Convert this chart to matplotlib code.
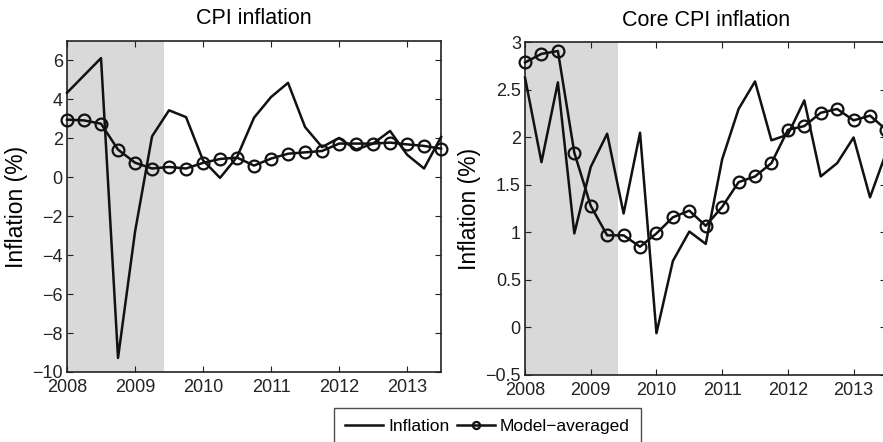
import matplotlib.pyplot as plt
import numpy as np

plt.rcParams['font.family'] = ['Liberation Sans', 'DejaVu Sans']

# quarterly dates, 2008Q1 .. 2013Q3
dates = 2008 + 0.25 * np.arange(23)
recession_end = 2009.42

cpi_actual = [4.34, 5.23, 6.12, -9.28, -2.8, 2.1, 3.44, 3.09, 0.87, -0.03, 1.04, 3.06,
              4.12, 4.85, 2.58, 1.55, 2.02, 1.42, 1.73, 2.38, 1.16, 0.45, 2.07]
cpi_model = [2.96, 2.92, 2.75, 1.42, 0.75, 0.45, 0.53, 0.45, 0.74, 0.94, 1.01, 0.60,
             0.96, 1.21, 1.28, 1.35, 1.73, 1.73, 1.73, 1.78, 1.69, 1.61, 1.47]

core_actual = [2.63, 1.74, 2.58, 0.99, 1.69, 2.04, 1.20, 2.05, -0.06, 0.70, 1.01, 0.88,
               1.77, 2.30, 2.59, 1.97, 2.03, 2.39, 1.59, 1.73, 2.00, 1.37, 1.85]
core_model = [2.79, 2.88, 2.91, 1.84, 1.28, 0.97, 0.97, 0.85, 0.99, 1.16, 1.23, 1.07,
              1.27, 1.53, 1.59, 1.73, 2.08, 2.12, 2.26, 2.30, 2.18, 2.23, 2.08]

years = [2008, 2009, 2010, 2011, 2012, 2013]

fig = plt.figure(figsize=(8.83, 4.42), dpi=100)
ax1 = fig.add_axes([0.0759, 0.1584, 0.4236, 0.7489])
ax2 = fig.add_axes([0.5946, 0.1516, 0.4093, 0.7523])

panels = [
    (ax1, cpi_actual, cpi_model, 'CPI inflation', (-10, 7), np.arange(-10, 7, 2)),
    (ax2, core_actual, core_model, 'Core CPI inflation', (-0.5, 3), np.arange(-0.5, 3.01, 0.5)),
]

for ax, actual, model, title, ylim, yticks in panels:
    ax.axvspan(2008, recession_end, color='#d9d9d9', lw=0, zorder=0)
    ax.plot(dates, actual, color='#111111', lw=1.8, label='Inflation', clip_on=False, zorder=3)
    ax.plot(dates, model, color='#111111', lw=1.8, marker='o', ms=8.5, mfc='none',
            mew=1.6, label='Model\u2212averaged', clip_on=False, zorder=3)
    ax.set_xlim(2008, 2013.5)
    ax.set_ylim(*ylim)
    ax.set_xticks(years)
    ax.set_xticklabels([str(y) for y in years])
    ax.set_yticks(yticks)
    ax.set_yticklabels([('%g' % v).replace('-', '\u2212') for v in yticks])
    ax.tick_params(direction='in', top=True, right=True, labelsize=13,
                   length=4, width=0.8, colors='#222222', pad=3)
    ax.tick_params(axis='x', pad=5)
    for s in ax.spines.values():
        s.set_color('#222222')
        s.set_linewidth(1.2)
    ax.set_title(title, fontsize=15.5, pad=12)
    ax.set_ylabel('Inflation (%)', fontsize=16.5, labelpad=3)

handles, labels = ax1.get_legend_handles_labels()
leg = fig.legend(handles, labels, loc='upper center', bbox_to_anchor=(0.552, 0.077),
                 ncol=2, fontsize=12.5, frameon=True, fancybox=False, edgecolor='#222222',
                 handlelength=2.2, handletextpad=0.3, columnspacing=0.4,
                 markerscale=0.6, borderpad=0.65, borderaxespad=0)
leg.get_frame().set_linewidth(1.0)

fig.savefig('out.png', dpi=100)
